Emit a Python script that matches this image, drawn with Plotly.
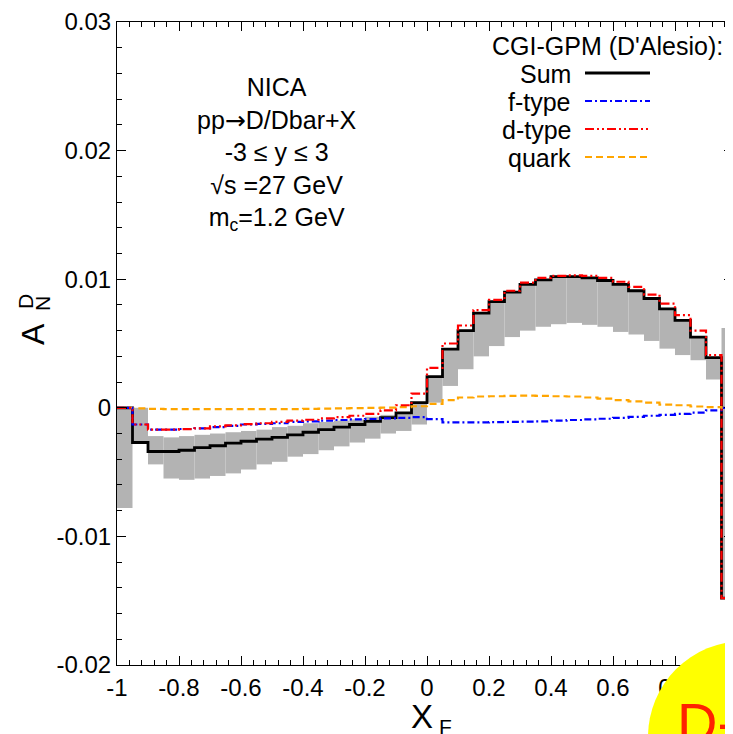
import plotly.graph_objects as go
import numpy as np

# ---------------- data ----------------
bin_left = [-1.00, -0.95, -0.90, -0.85, -0.80, -0.75, -0.70, -0.65, -0.60, -0.55,
            -0.50, -0.45, -0.40, -0.35, -0.30, -0.25, -0.20, -0.15, -0.10, -0.05,
            0.00, 0.05, 0.10, 0.15, 0.20, 0.25, 0.30, 0.35, 0.40, 0.45,
            0.50, 0.55, 0.60, 0.65, 0.70, 0.75, 0.80, 0.85, 0.90, 0.95]
bin_width = 0.05

sum_vals = [0.0, -0.0027, -0.0034, -0.0034, -0.0033, -0.0031, -0.00295, -0.00275, -0.0026, -0.00243,
            -0.0023, -0.0021, -0.0019, -0.0017, -0.0015, -0.0013, -0.00106, -0.00076, -0.0004, 0.0004,
            0.00243, 0.00456, 0.0060, 0.00736, 0.00826, 0.00899, 0.0096, 0.00995, 0.0102, 0.0102,
            0.0101, 0.0099, 0.0096, 0.0091, 0.0085, 0.0077, 0.0068, 0.0055, 0.0039, -0.0148]

band_hi = [0.0, 0.0, -0.0022, -0.0023, -0.0022, -0.0021, -0.0020, -0.0019, -0.0018, -0.0017,
           -0.0015, -0.0014, -0.0012, -0.0011, -0.0010, -0.0009, -0.0007, -0.00055, -0.0004, 0.0004,
           0.00243, 0.00456, 0.0060, 0.00736, 0.00826, 0.00899, 0.0096, 0.00995, 0.0102, 0.0102,
           0.0101, 0.0099, 0.0096, 0.0091, 0.0085, 0.0077, 0.0068, 0.0055, 0.0039, 0.0062]
band_lo = [-0.0078, -0.0027, -0.0044, -0.0055, -0.0056, -0.0055, -0.0053, -0.0051, -0.0048, -0.0044,
           -0.0042, -0.0038, -0.0036, -0.0033, -0.0030, -0.0027, -0.0024, -0.0020, -0.0018, -0.0013,
           0.0004, 0.0017, 0.0030, 0.0040, 0.0048, 0.0055, 0.0060, 0.0063, 0.0065, 0.0066,
           0.00645, 0.0063, 0.0059, 0.0057, 0.0052, 0.0046, 0.0041, 0.0037, 0.0022, -0.0148]

f_type = [0.0, -0.0013, -0.0017, -0.0017, -0.00165, -0.0016, -0.0015, -0.0014, -0.0013, -0.00125,
          -0.0012, -0.0011, -0.00105, -0.0010, -0.00095, -0.0009, -0.00087, -0.00083, -0.00078, -0.00073,
          -0.00088, -0.00114, -0.00114, -0.00114, -0.00112, -0.0011, -0.00108, -0.00105, -0.0010, -0.00095,
          -0.0009, -0.00085, -0.00078, -0.0007, -0.00062, -0.00055, -0.00047, -0.00038, -0.0002, 0.0]

d_type = [0.0, -0.0013, -0.0017, -0.0017, -0.00166, -0.0016, -0.00145, -0.00137, -0.00127, -0.0012,
          -0.0011, -0.0010, -0.00093, -0.00083, -0.00072, -0.00062, -0.00047, -0.0002, 0.0002, 0.0011,
          0.0031, 0.0050, 0.0064, 0.0076, 0.0084, 0.0091, 0.00974, 0.0101, 0.01026, 0.0103,
          0.01026, 0.0101, 0.0098, 0.0094, 0.0088, 0.0081, 0.0072, 0.0060, 0.0041, -0.0148]

quark = [0.0, -0.00005, -0.00008, -0.0001, -0.0001, -0.0001, -0.0001, -0.0001, -0.0001, -0.0001,
         -0.0001, -0.0001, -0.00008, -0.00006, -0.00004, -0.00002, 0.0, 0.00002, 0.00005, 0.00012,
         0.0003, 0.0006, 0.0008, 0.00088, 0.0009, 0.00093, 0.00095, 0.00093, 0.0009, 0.00088,
         0.0008, 0.00072, 0.0006, 0.0005, 0.0004, 0.00025, 0.0002, 0.0001, 0.00005, 0.0]

x_tickvals = [-1, -0.8, -0.6, -0.4, -0.2, 0, 0.2, 0.4, 0.6, 0.8]
x_ticktext = ["-1", "-0.8", "-0.6", "-0.4", "-0.2", "0", "0.2", "0.4", "0.6", "0.8"]
y_tickvals = [-0.02, -0.01, 0, 0.01, 0.02, 0.03]
y_ticktext = ["-0.02", "-0.01", "0", "0.01", "0.02", "0.03"]

legend_title = "CGI-GPM (D'Alesio):"
series_names = ["Sum", "f-type", "d-type", "quark"]
info_lines = ["NICA",
              "pp<span style=\"font-family:'DejaVu Sans'\">\u2192</span>D/Dbar+X",
              "-3 \u2264 y \u2264 3",
              "\u221as =27 GeV",
              "m<sub>c</sub>=1.2 GeV"]

# ---------------- geometry ----------------
# the page body adds an 8 px offset, so figure coords = page coords - 8
OFF = 8
W, H = 733 - OFF, 734 - OFF
L, R, T, B = 117 - OFF, 733 - OFF, 22 - OFF, 665 - OFF   # plot area (figure px)
X_PER_UNIT = 310.0
x_max = -1 + (R - L) / X_PER_UNIT

def px(xpage):
    return (xpage - OFF - L) / (R - L)

def py(ypage):
    return (B - (ypage - OFF)) / (B - T)

FONT = "Liberation Sans, Arial, sans-serif"

left = np.array(bin_left)
edges = np.append(left, left[-1] + bin_width)
centers = left + bin_width / 2

def stepy(v):
    v = list(v)
    return v + [v[-1]]

fig = go.Figure()

hi = np.array(band_hi)
lo = np.array(band_lo)
fig.add_trace(go.Bar(x=centers, y=hi - lo, base=lo, width=bin_width,
                     marker=dict(color="#b3b3b3", line=dict(width=0)),
                     showlegend=False, hoverinfo="skip"))

styles = {
    "Sum": dict(color="black", width=2.8, dash="solid"),
    "quark": dict(color="#ffa500", width=2.2, dash="7px,4px"),
    "f-type": dict(color="#0000ff", width=2.2, dash="7px,3px,2px,3px"),
    "d-type": dict(color="#ff0000", width=2.2, dash="9px,3px,2px,3px,2px,3px"),
}
series = {"Sum": sum_vals, "f-type": f_type, "d-type": d_type, "quark": quark}

for name in ["Sum", "quark", "f-type", "d-type"]:
    fig.add_trace(go.Scatter(x=edges, y=stepy(series[name]), mode="lines",
                             line=dict(shape="hv", **styles[name]),
                             name=name, showlegend=False, hoverinfo="skip"))

annotations = []
shapes = []

# legend (gnuplot style: label right-aligned, sample on the right)
annotations.append(dict(x=px(725), y=py(46), xref="paper", yref="paper", text=legend_title,
                        showarrow=False, xanchor="right", yanchor="middle",
                        font=dict(family=FONT, size=25, color="black")))
leg_y = [73, 101, 129, 157]
for name, yy in zip(series_names, leg_y):
    annotations.append(dict(x=px(573), y=py(yy + 1), xref="paper", yref="paper", text=name,
                            showarrow=False, xanchor="right", yanchor="middle",
                            font=dict(family=FONT, size=25, color="black")))
    st = styles[name]
    shapes.append(dict(type="line", xref="paper", yref="paper",
                       x0=px(585), x1=px(650), y0=py(yy), y1=py(yy),
                       line=dict(color=st["color"], width=st["width"], dash=st["dash"])))

# info text block
annotations.append(dict(x=px(277), y=py(154), xref="paper", yref="paper",
                        text="<br>".join(info_lines), showarrow=False,
                        xanchor="center", yanchor="middle", align="center",
                        font=dict(family=FONT, size=25, color="black")))

# axis titles
annotations.append(dict(x=px(33), y=py(334), xref="paper", yref="paper", text="A",
                        showarrow=False, textangle=-90, xanchor="center", yanchor="middle",
                        font=dict(family=FONT, size=32, color="black")))
annotations.append(dict(x=px(25), y=py(302), xref="paper", yref="paper", text="D",
                        showarrow=False, textangle=-90, xanchor="center", yanchor="middle",
                        font=dict(family=FONT, size=21, color="black")))
annotations.append(dict(x=px(42), y=py(304), xref="paper", yref="paper", text="N",
                        showarrow=False, textangle=-90, xanchor="center", yanchor="middle",
                        font=dict(family=FONT, size=21, color="black")))
annotations.append(dict(x=px(422), y=py(716), xref="paper", yref="paper", text="X",
                        showarrow=False, xanchor="center", yanchor="middle",
                        font=dict(family=FONT, size=33, color="black")))
annotations.append(dict(x=px(445), y=py(726), xref="paper", yref="paper", text="F",
                        showarrow=False, xanchor="center", yanchor="middle",
                        font=dict(family=FONT, size=21, color="black")))

# yellow overlay sticker in the bottom-right corner
shapes.append(dict(type="circle", xref="paper", yref="paper", layer="above",
                   x0=px(744 - 96), x1=px(744 + 96), y0=py(737 + 96), y1=py(737 - 96),
                   fillcolor="#ffff00", line=dict(width=0)))
annotations.append(dict(x=px(675), y=py(722), xref="paper", yref="paper", text="D-",
                        showarrow=False, xanchor="left", yanchor="middle",
                        font=dict(family=FONT, size=56, color="#ff2200")))

axis_common = dict(showline=True, linecolor="black", linewidth=1, mirror="allticks",
                   ticks="inside", ticklen=9, tickwidth=1, tickcolor="black",
                   showgrid=False, zeroline=False,
                   tickfont=dict(family=FONT, size=24, color="black"))

fig.update_layout(
    width=W, height=H,
    margin=dict(l=L, r=W - R, t=T, b=H - B),
    paper_bgcolor="white", plot_bgcolor="white",
    showlegend=False, barmode="overlay",
    xaxis=dict(range=[-1, x_max], tickmode="array", tickvals=x_tickvals, ticktext=x_ticktext,
               minor=dict(tickmode="linear", tick0=-1, dtick=0.04, ticklen=5, ticks="inside",
                          tickcolor="black", tickwidth=1),
               ticklabelstandoff=1, **axis_common),
    yaxis=dict(range=[-0.02, 0.03], tickmode="array", tickvals=y_tickvals, ticktext=y_ticktext,
               minor=dict(tickmode="linear", tick0=-0.02, dtick=0.002, ticklen=5, ticks="inside",
                          tickcolor="black", tickwidth=1),
               ticklabelstandoff=0, **axis_common),
    annotations=annotations,
    shapes=shapes,
)

fig.write_html("out.html")
